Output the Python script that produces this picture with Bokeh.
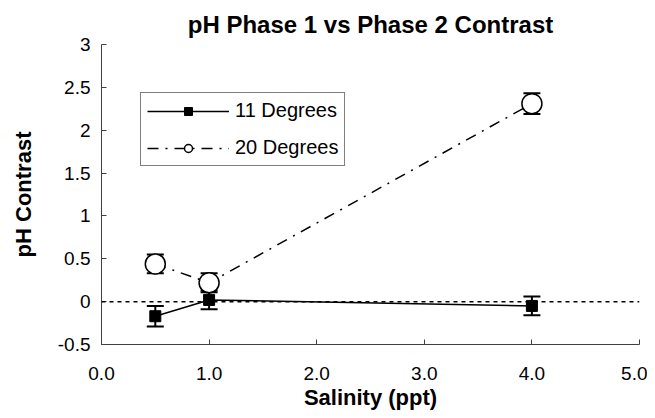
from bokeh.plotting import figure
from bokeh.models import (ColumnDataSource, Whisker, TeeHead, Span, Legend, LegendItem,
                          FixedTicker, Range1d, Title)
from bokeh.embed import file_html
from bokeh.resources import INLINE

# ---- data ----
salinity = [0.5, 1.0, 4.0]
deg11 = [-0.17, 0.02, -0.05]
deg11_err = [0.12, 0.11, 0.11]
deg20 = [0.44, 0.22, 2.31]
deg20_err = [0.11, 0.11, 0.12]
series_names = ["11 Degrees", "20 Degrees"]
x_ticks = [0, 1, 2, 3, 4, 5]
x_tick_labels = ["0.0", "1.0", "2.0", "3.0", "4.0", "5.0"]
y_ticks = [-0.5, 0, 0.5, 1, 1.5, 2, 2.5, 3]
y_tick_labels = ["-0.5", "0", "0.5", "1", "1.5", "2", "2.5", "3"]

FONT = "Liberation Sans"

p = figure(frame_width=538, frame_height=300, output_backend="svg", toolbar_location=None,
           x_range=Range1d(0, 5), y_range=Range1d(-0.5, 3),
           min_border_left=101, min_border_right=8, min_border_top=44, min_border_bottom=66,
           title="pH Phase 1 vs Phase 2 Contrast")
p.outline_line_color = None
p.grid.grid_line_color = None
p.background_fill_color = "white"
p.border_fill_color = "white"

p.title.align = "center"
p.title.text_font = FONT
p.title.text_font_size = "24px"
p.title.text_font_style = "bold"
p.title.text_color = "black"
p.title.standoff = 14

for ax in (p.xaxis[0], p.yaxis[0]):
    ax.major_label_text_font = FONT
    ax.major_label_text_font_size = "19px"
    ax.major_label_text_color = "black"
    ax.axis_label_text_font = FONT
    ax.axis_label_text_font_size = "22px"
    ax.axis_label_text_font_style = "bold"
    ax.axis_label_text_color = "black"
    ax.axis_line_color = "#404040"
    ax.major_tick_line_color = "#404040"
    ax.major_tick_in = 5
    ax.major_tick_out = 0
    ax.minor_tick_line_color = None

p.xaxis.major_label_standoff = 22
p.yaxis.major_label_standoff = 11
p.xaxis.ticker = FixedTicker(ticks=x_ticks)
p.xaxis.major_label_overrides = {t: l for t, l in zip(x_ticks, x_tick_labels)}
p.yaxis.ticker = FixedTicker(ticks=y_ticks)
p.yaxis.major_label_overrides = {t: l for t, l in zip(y_ticks, y_tick_labels)}
p.yaxis.axis_label = "pH Contrast"
p.yaxis.axis_label_standoff = 19

# x axis title, slightly right of centre as in the original
xt = Title(text="Salinity (ppt)", align="center", offset=10, standoff=0,
           text_font=FONT, text_font_size="22px", text_font_style="bold", text_color="black")
p.add_layout(xt, "below")

# zero reference line
p.add_layout(Span(location=0, dimension="width", line_color="black",
                  line_dash="4 4", line_width=1.5))

src11 = ColumnDataSource(dict(x=salinity, y=deg11,
                              lo=[v - e for v, e in zip(deg11, deg11_err)],
                              hi=[v + e for v, e in zip(deg11, deg11_err)]))
src20 = ColumnDataSource(dict(x=salinity, y=deg20,
                              lo=[v - e for v, e in zip(deg20, deg20_err)],
                              hi=[v + e for v, e in zip(deg20, deg20_err)]))

l20 = p.line("x", "y", source=src20, line_color="black", line_width=1.5, line_dash="11 7 2 7")
l11 = p.line("x", "y", source=src11, line_color="black", line_width=1.5)

for src in (src20, src11):
    p.add_layout(Whisker(source=src, base="x", lower="lo", upper="hi",
                         line_color="black", line_width=2,
                         upper_head=TeeHead(size=17, line_color="black", line_width=2),
                         lower_head=TeeHead(size=17, line_color="black", line_width=2)))

c20 = p.scatter("x", "y", source=src20, marker="circle", size=20,
                fill_color="white", line_color="black", line_width=1.5)
s11 = p.scatter("x", "y", source=src11, marker="square", size=11,
                fill_color="black", line_color="black")

# legend-only small markers (placed outside the visible ranges)
offscreen = ColumnDataSource(dict(x=[-10], y=[-10]))
ls11 = p.scatter("x", "y", source=offscreen, marker="square", size=10,
                 fill_color="black", line_color="black")
lc20 = p.scatter("x", "y", source=offscreen, marker="circle", size=8,
                 fill_color="white", line_color="black", line_width=1.5)

legend = Legend(items=[LegendItem(label=series_names[0], renderers=[l11, ls11]),
                       LegendItem(label=series_names[1], renderers=[l20, lc20])],
                location=(39, 178))
legend.border_line_color = "black"
legend.border_line_width = 1
legend.background_fill_alpha = 1
legend.label_text_font = FONT
legend.label_text_font_size = "20px"
legend.label_text_color = "black"
legend.glyph_width = 82
legend.glyph_height = 20
legend.label_height = 20
legend.label_standoff = 6
legend.spacing = 14
legend.padding = 6
legend.margin = 0
p.add_layout(legend, "center")

open("out.html", "w").write(file_html(p, INLINE))
